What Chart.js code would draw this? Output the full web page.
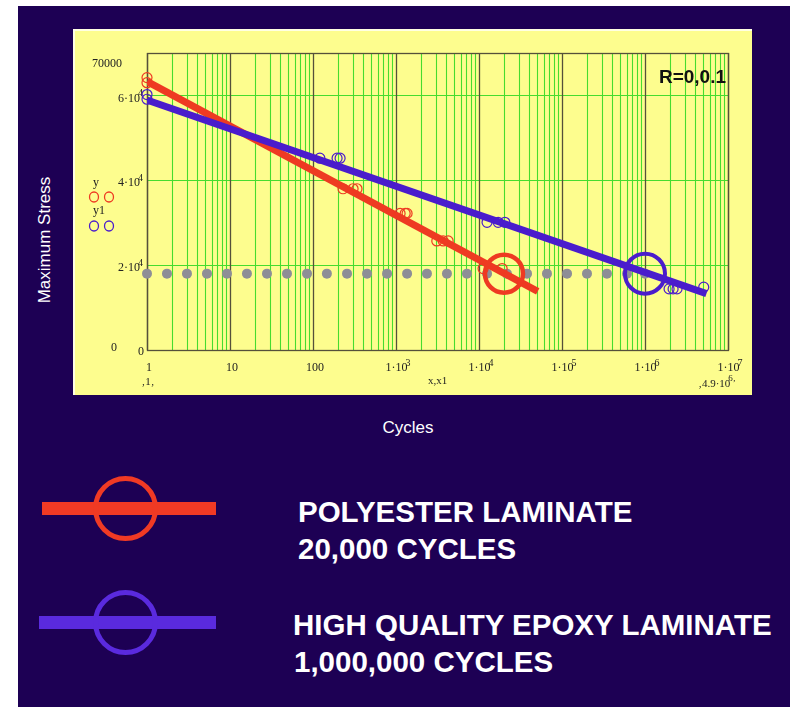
<!DOCTYPE html>
<html>
<head>
<meta charset="utf-8">
<script src="https://cdn.jsdelivr.net/npm/chart.js@4.4.1/dist/chart.umd.min.js"></script>
<style>
  html, body { margin: 0; padding: 0; background: #ffffff; }
  body { width: 793px; height: 707px; position: relative; overflow: hidden;
         font-family: Arial, "Liberation Sans", sans-serif; }
  #slide { position: absolute; left: 18px; top: 6px; width: 772px; height: 701px; background: #1d0054; }
  #plotBox { position: absolute; left: 73px; top: 29px; width: 679px; height: 366px; }
  #plotBox canvas { display: block; }
  .white { position: absolute; color: #ffffff; white-space: nowrap; }
  #yTitle { left: 45px; top: 240px; font-size: 17px; transform: translate(-50%, -50%) rotate(-90deg); }
  #xTitle { left: 408px; top: 428px; font-size: 17px; transform: translate(-50%, -50%); }
  .key { position: absolute; font-weight: bold; font-size: 29.5px; line-height: 30px; }
  .bar { position: absolute; height: 13px; }
  .ring { position: absolute; width: 65px; height: 65px; border-radius: 50%; box-sizing: border-box; border: 5px solid; }
</style>
</head>
<body>
<div id="slide"></div>
<div id="plotBox"><canvas id="sn" width="679" height="366"></canvas></div>
<div id="yTitle" class="white">Maximum Stress</div>
<div id="xTitle" class="white">Cycles</div>

<div class="bar" style="left:42px; top:502px; width:174px; background:#f03a24;"></div>
<div class="ring" style="left:93px; top:476px; border-color:#f03a24;"></div>
<div class="white key" style="left:298px; top:497px;">POLYESTER LAMINATE</div>
<div class="white key" style="left:298px; top:534px;">20,000 CYCLES</div>

<div class="bar" style="left:39px; top:616px; width:177px; background:#5a2ade;"></div>
<div class="ring" style="left:93px; top:590px; border-color:#5a2ade;"></div>
<div class="white key" style="left:293px; top:610px;">HIGH QUALITY EPOXY LAMINATE</div>
<div class="white key" style="left:294px; top:647px;">1,000,000 CYCLES</div>

<script>
// ---- S-N data (cycles to failure vs. maximum stress), R = 0, 0.1 ----
const polyFitCycles  = [1, 51000];
const polyFitStress  = [63300, 13800];
const epoxyFitCycles = [1, 5500000];
const epoxyFitStress = [58900, 13300];

const polyTestCycles = [1, 1, 230, 304, 339, 1120, 1290, 1360, 3100, 3700, 4250, 11200, 19000];
const polyTestStress = [64200, 63000, 38000, 38000, 38000, 32200, 32200, 32200, 25700, 25700, 25700, 19200, 19200];

const epoxyTestCycles = [1, 1, 121, 195, 212, 12500, 17000, 20500, 1950000, 2180000, 2430000, 5100000];
const epoxyTestStress = [60200, 59100, 45200, 45200, 45200, 30100, 30100, 30100, 14400, 14400, 14400, 14800];

// design stress level, drawn as a dotted row of points
const limitCycles = [1, 1.74, 3.03, 5.28, 9.2, 16, 27.9, 48.6, 84.7, 147, 257, 448, 780, 1360, 2360,
                     4110, 7160, 12500, 21700, 37900, 65900, 115000, 200000, 348000, 607000, 1000000];
const limitStress = 18000;

// marked lives at the design stress
const polyLife  = [20000];
const epoxyLife = [1000000];

// axis ticks
const xTickValues = [1, 10, 100, 1000, 10000, 100000, 1000000, 10000000];
const xTickLabels = ['1', '10', '100', '1·10^3', '1·10^4', '1·10^5', '1·10^6', '1·10^7'];
const yTickValues = [0, 20000, 40000, 60000];
const yTickLabels = ['0', '2·10^4', '4·10^4', '6·10^4'];
const yMax = 70000;

const RED = '#ee3a22';
const BLUE = '#4a1ccc';
const PAPER = '#fdfd8e';
const GRID = '#46dc2e';
const MAJOR = '#55503a';
const INK = '#222222';

const pts = (xs, ys) => xs.map((x, i) => ({ x, y: Array.isArray(ys) ? ys[i] : ys }));

function sci(ctx, label, x, y, align, size) {
  const parts = label.split('^');
  const base = parts[0], exp = parts[1];
  ctx.font = size + 'px "Liberation Serif", "Times New Roman", serif';
  const bw = ctx.measureText(base).width;
  let ew = 0;
  if (exp) {
    ctx.font = Math.round(size * 0.8) + 'px "Liberation Serif", "Times New Roman", serif';
    ew = ctx.measureText(exp).width - 2;
  }
  const total = bw + ew;
  const start = align === 'right' ? x - total : align === 'center' ? x - total / 2 : x;
  ctx.textAlign = 'left';
  ctx.textBaseline = 'middle';
  ctx.font = size + 'px "Liberation Serif", "Times New Roman", serif';
  ctx.fillText(base, start, y);
  if (exp) {
    ctx.font = Math.round(size * 0.8) + 'px "Liberation Serif", "Times New Roman", serif';
    ctx.fillText(exp, start + bw - 2, y - 5);
  }
}

const frame = {
  id: 'frame',
  beforeDatasetsDraw(chart) {
    const { ctx, chartArea: a, scales: { x, y } } = chart;
    ctx.save();
    ctx.fillStyle = PAPER;
    ctx.fillRect(0, 0, chart.width, chart.height);
    ctx.fillStyle = 'rgba(255,255,235,0.9)';
    ctx.fillRect(0, 0, chart.width, 2);
    ctx.fillRect(0, 0, 2, chart.height);

    const vline = (px, color, w) => {
      ctx.strokeStyle = color; ctx.lineWidth = w;
      ctx.beginPath(); ctx.moveTo(px, a.top); ctx.lineTo(px, a.bottom); ctx.stroke();
    };
    // minor log grid
    for (let e = 0; e < 7; e++) {
      for (let m = 2; m <= 9; m++) {
        vline(Math.round(x.getPixelForValue(m * Math.pow(10, e))) + 0.5, GRID, 1.1);
      }
    }
    // horizontal grid
    ctx.strokeStyle = GRID; ctx.lineWidth = 1.1;
    yTickValues.forEach(v => {
      if (v <= 0) return;
      const py = Math.round(y.getPixelForValue(v)) + 0.5;
      ctx.beginPath(); ctx.moveTo(a.left, py); ctx.lineTo(a.right, py); ctx.stroke();
    });
    // decade lines
    xTickValues.forEach(v => vline(Math.round(x.getPixelForValue(v)) + 0.5, MAJOR, 1.3));
    // frame
    ctx.strokeStyle = MAJOR; ctx.lineWidth = 1.3;
    ctx.strokeRect(a.left + 0.5, a.top + 0.5, a.right - a.left, a.bottom - a.top);

    // tick labels
    ctx.fillStyle = INK;
    xTickValues.forEach((v, i) => sci(ctx, xTickLabels[i], x.getPixelForValue(v) + 2, a.bottom + 18, 'center', 12));
    yTickValues.forEach((v, i) => {
      if (v === 0) sci(ctx, '0', a.left - 3, a.bottom + 2, 'right', 12);
      else sci(ctx, yTickLabels[i], a.left - 4, y.getPixelForValue(v) + 3, 'right', 12);
    });
    // range limits
    sci(ctx, String(yMax), a.left - 25, y.getPixelForValue(yMax) + 11, 'right', 12);
    sci(ctx, '0', a.left - 30, a.bottom - 2, 'right', 12);
    sci(ctx, '\u201A1\u201A', a.left + 1, a.bottom + 32, 'center', 11);
    sci(ctx, 'x,x1', (a.left + a.right) / 2, a.bottom + 31, 'center', 11);
    sci(ctx, '\u201A4.9·10^6\u201A', a.right - 11, a.bottom + 34, 'center', 11);

    // trace names
    sci(ctx, 'y', a.left - 51, 154, 'center', 12);
    sci(ctx, 'y1', a.left - 48, 182, 'center', 12);
    const mark = (cx, cy, color) => {
      ctx.strokeStyle = color; ctx.lineWidth = 1.3;
      ctx.beginPath(); ctx.ellipse(cx, cy, 4.5, 5, 0, 0, Math.PI * 2); ctx.stroke();
    };
    mark(a.left - 53, 168, RED); mark(a.left - 38, 168, RED);
    mark(a.left - 53, 197, BLUE); mark(a.left - 38, 197, BLUE);

    // load ratio note
    ctx.fillStyle = '#111111';
    ctx.font = 'bold 19px Arial, "Liberation Sans", sans-serif';
    ctx.textAlign = 'right'; ctx.textBaseline = 'middle';
    ctx.fillText('R=0,0.1', a.right - 2, a.top + 25);
    ctx.restore();
  }
};

new Chart(document.getElementById('sn'), {
  type: 'scatter',
  data: {
    datasets: [
      { data: pts(limitCycles, limitStress), pointRadius: 5, pointBackgroundColor: '#8e8e96',
        pointBorderWidth: 0, showLine: false, order: 6, clip: false },
      { data: pts(polyFitCycles, polyFitStress), showLine: true, borderColor: RED, borderWidth: 7,
        pointRadius: 0, order: 4, borderCapStyle: 'butt' },
      { data: pts(epoxyFitCycles, epoxyFitStress), showLine: true, borderColor: BLUE, borderWidth: 7,
        pointRadius: 0, order: 3, borderCapStyle: 'butt' },
      { data: pts(polyTestCycles, polyTestStress), showLine: false, pointRadius: 5,
        pointBorderColor: RED, pointBackgroundColor: 'rgba(0,0,0,0)', pointBorderWidth: 1.2, order: 2, clip: false },
      { data: pts(epoxyTestCycles, epoxyTestStress), showLine: false, pointRadius: 5,
        pointBorderColor: BLUE, pointBackgroundColor: 'rgba(0,0,0,0)', pointBorderWidth: 1.2, order: 2, clip: false },
      { data: pts(polyLife, limitStress), showLine: false, pointRadius: 19,
        pointBorderColor: RED, pointBackgroundColor: 'rgba(0,0,0,0)', pointBorderWidth: 4.5, order: 1, clip: false },
      { data: pts(epoxyLife, limitStress), showLine: false, pointRadius: 20,
        pointBorderColor: BLUE, pointBackgroundColor: 'rgba(0,0,0,0)', pointBorderWidth: 4, order: 1, clip: false }
    ]
  },
  options: {
    responsive: false,
    animation: false,
    layout: { padding: { left: 74, right: 24, top: 19, bottom: 45 } },
    plugins: { legend: { display: false }, tooltip: { enabled: false } },
    scales: {
      x: { type: 'logarithmic', min: 1, max: 10000000, display: false },
      y: { type: 'linear', min: 0, max: yMax, display: false }
    }
  },
  plugins: [frame]
});
</script>
</body>
</html>
